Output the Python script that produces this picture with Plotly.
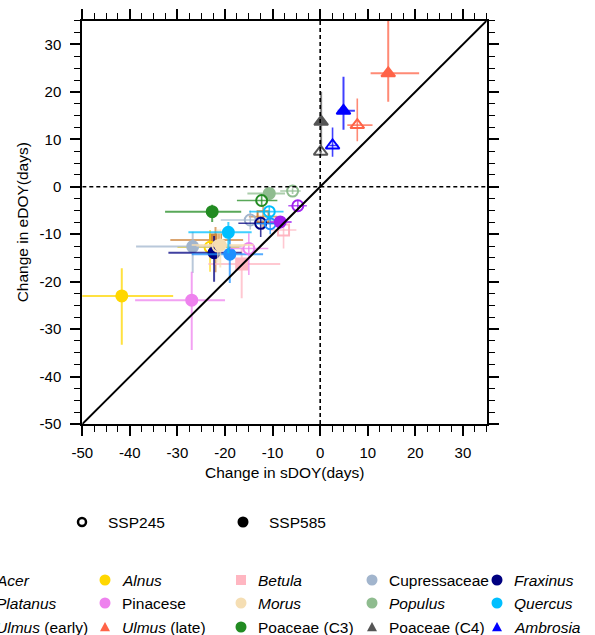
import plotly.graph_objects as go

# ---------------- data ----------------
species = ["Acer", "Alnus", "Betula", "Cupressaceae", "Fraxinus",
           "Platanus", "Pinacese", "Morus", "Populus", "Quercus",
           "Ulmus (early)", "Ulmus (late)", "Poaceae (C3)", "Poaceae (C4)", "Ambrosia"]

# SSP585 (filled)
x585 = [-22.0, -41.7, -16.5, -26.8, -22.3, -19.0, -27.0, -21.0, -10.7, -19.3, -8.4, 14.3, -22.7, 0.2, 4.9]
y585 = [-11.2, -23.0, -16.3, -12.6, -13.9, -14.2, -23.9, -12.3, -1.4, -9.6, -7.4, 23.9, -5.25, 13.7, 16.0]
x585_lo = [-31.5, -52.0, -23.5, -38.7, -31.9, -27.0, -38.9, -27.0, -15.3, -27.7, -10.5, 10.6, -32.6, -0.3, 3.7]
x585_hi = [-16.2, -30.9, -8.4, -16.5, -16.5, -12.0, -20.0, -14.0, -7.4, -14.4, -6.0, 20.8, -16.6, 0.7, 7.3]
y585_lo = [-18.0, -33.3, -23.5, -18.2, -20.0, -20.3, -34.4, -17.0, -2.5, -14.0, -8.8, 17.9, -7.4, 8.0, 12.0]
y585_hi = [-8.5, -17.2, -12.9, -9.5, -10.4, -9.5, -17.9, -9.0, -0.5, -7.4, -6.3, 36.0, -3.8, 20.0, 23.2]

# SSP245 (open)
x245 = [-12.0, -23.15, -7.7, -14.7, -12.5, -10.5, -15.0, -21.5, -5.8, -10.7, -4.7, 7.8, -12.3, 0.1, 2.6]
y245 = [-6.3, -12.75, -9.1, -7.0, -7.7, -7.8, -13.0, -12.5, -0.9, -5.25, -4.0, 13.0, -2.9, 7.4, 8.7]
x245_lo = [-15.0, -30.0, -10.5, -20.9, -17.2, -13.5, -19.0, -26.0, -8.4, -14.9, -6.7, 5.7, -17.5, -0.2, 1.9]
x245_hi = [-9.0, -17.0, -5.0, -7.7, -9.1, -8.0, -10.9, -16.0, -4.1, -7.7, -2.8, 11.0, -9.0, 0.4, 3.8]
y245_lo = [-9.0, -17.9, -13.0, -9.0, -10.6, -10.0, -18.6, -16.0, -1.5, -7.0, -5.3, 9.6, -4.0, 6.3, 6.3]
y245_hi = [-4.0, -9.1, -6.5, -5.0, -6.5, -6.0, -9.8, -9.0, -0.3, -4.0, -2.9, 18.6, -1.8, 9.9, 12.5]

x_ticks = [-50, -40, -30, -20, -10, 0, 10, 20, 30]
y_ticks = [-50, -40, -30, -20, -10, 0, 10, 20, 30]

legend_labels = ["<i>Acer</i>", "<i>Alnus</i>", "<i>Betula</i>", "Cupressaceae", "<i>Fraxinus</i>",
                 "<i>Platanus</i>", "Pinacese", "<i>Morus</i>", "<i>Populus</i>", "<i>Quercus</i>",
                 "<i>Ulmus</i> (early)", "<i>Ulmus</i> (late)", "Poaceae (C3)", "Poaceae (C4)", "<i>Ambrosia</i>"]

# ---------------- styles ----------------
colors = ["#CD853F", "#FFD700", "#FFB6C1", "#A2B5CD", "#000080",
          "#1E90FF", "#EE82EE", "#F5DEB3", "#8FBC8F", "#00BFFF",
          "#A020F0", "#FF6347", "#228B22", "#555555", "#0000FF"]
shapes_m = ["square", "circle", "square", "circle", "circle",
            "circle", "circle", "circle", "circle", "circle",
            "circle", "triangle-up", "circle", "triangle-up", "triangle-up"]


def rgba(h, a):
    h = h.lstrip("#")
    return "rgba(%d,%d,%d,%.2f)" % (int(h[0:2], 16), int(h[2:4], 16), int(h[4:6], 16), a)


FONT = "Liberation Sans, Arial, Helvetica, sans-serif"
FS = 15.5
W, H = 595, 635
L, R, T, B = 82.3, 486.7, 20.7, 424.0


def px(xp):
    return xp / W


def py(yp):
    return 1 - yp / H


fig = go.Figure()

# main data traces
for i, sp in enumerate(species):
    c = colors[i]
    for (xs, ys, xl, xh, yl, yh, filled) in [
            (x245, y245, x245_lo, x245_hi, y245_lo, y245_hi, False),
            (x585, y585, x585_lo, x585_hi, y585_lo, y585_hi, True)]:
        sym = shapes_m[i] if filled else shapes_m[i] + "-open"
        fig.add_trace(go.Scatter(
            x=[xs[i]], y=[ys[i]], mode="markers",
            marker=dict(symbol=sym, size=11 if "triangle" not in sym else 12,
                        color=c, line=dict(color=c, width=2)),
            error_x=dict(type="data", symmetric=False,
                         array=[xh[i] - xs[i]], arrayminus=[xs[i] - xl[i]],
                         color=rgba(c, 0.75), thickness=2 if filled else 1.6, width=0),
            error_y=dict(type="data", symmetric=False,
                         array=[yh[i] - ys[i]], arrayminus=[ys[i] - yl[i]],
                         color=rgba(c, 0.75), thickness=2 if filled else 1.6, width=0),
            showlegend=False, hoverinfo="skip", cliponaxis=True))

# reference lines
fig.add_shape(type="line", xref="x", yref="y", x0=-50, y0=-50, x1=35, y1=35,
              line=dict(color="black", width=2))
fig.add_shape(type="line", xref="x", yref="y", x0=0, y0=-50, x1=0, y1=35,
              line=dict(color="black", width=1.6, dash="4px,3px"))
fig.add_shape(type="line", xref="x", yref="y", x0=-50, y0=0, x1=35, y1=0,
              line=dict(color="black", width=1.6, dash="4px,3px"))


def legend_marker(sym, cx, cy, size, color, filled=True, lw=0):
    hs = size / 2.0
    line = dict(color=color, width=lw)
    fill = color if filled else "rgba(0,0,0,0)"
    if sym == "circle":
        fig.add_shape(type="circle", xref="paper", yref="paper",
                      x0=px(cx - hs), x1=px(cx + hs), y0=py(cy + hs), y1=py(cy - hs),
                      fillcolor=fill, line=line)
    elif sym == "square":
        fig.add_shape(type="rect", xref="paper", yref="paper",
                      x0=px(cx - hs), x1=px(cx + hs), y0=py(cy + hs), y1=py(cy - hs),
                      fillcolor=fill, line=line)
    else:
        path = "M %f,%f L %f,%f L %f,%f Z" % (px(cx - hs), py(cy + hs * 0.85),
                                               px(cx + hs), py(cy + hs * 0.85),
                                               px(cx), py(cy - hs))
        fig.add_shape(type="path", xref="paper", yref="paper", path=path,
                      fillcolor=fill, line=line)


# ---------------- custom legend ----------------
col_marker_x = [-21, 105, 241, 372, 497]
row_y = [580, 603, 627]
for i, sp in enumerate(species):
    r, cidx = divmod(i, 5)
    mx = col_marker_x[cidx]
    my = row_y[r]
    sym = shapes_m[i]
    legend_marker(sym, mx, my, 11 if sym == "circle" else 10, colors[i])
    fig.add_annotation(x=px(mx + 15), y=py(my), xref="paper", yref="paper",
                       text=legend_labels[i],
                       showarrow=False, xanchor="left", yanchor="middle",
                       font=dict(family=FONT, size=FS, color="black"))

scen_labels = ["SSP245", "SSP585"]
scen_x = [82, 243]
for k, lab in enumerate(scen_labels):
    if k == 0:
        legend_marker("circle", scen_x[k], 522, 8, "black", filled=False, lw=2.5)
    else:
        legend_marker("circle", scen_x[k], 522, 11, "black")
    fig.add_annotation(x=px(scen_x[k] + 24), y=py(522), xref="paper", yref="paper", text=lab,
                       showarrow=False, xanchor="left", yanchor="middle",
                       font=dict(family=FONT, size=FS, color="black"))

# axis titles
fig.add_annotation(x=px((L + R) / 2), y=py(472), xref="paper", yref="paper",
                   text="Change in sDOY(days)",
                   showarrow=False, xanchor="center", yanchor="middle",
                   font=dict(family=FONT, size=FS, color="black"))
fig.add_annotation(x=px(22), y=py((T + B) / 2), xref="paper", yref="paper",
                   text="Change in eDOY(days)",
                   showarrow=False, xanchor="center", yanchor="middle", textangle=-90,
                   font=dict(family=FONT, size=FS, color="black"))

axis_common = dict(
    showgrid=False, zeroline=False, showline=True, linecolor="black", linewidth=2,
    mirror="allticks", ticks="outside", ticklen=10, tickwidth=1.6, tickcolor="black",
    tickfont=dict(family=FONT, size=15, color="black"), automargin=False,
    minor=dict(dtick=2.5, tick0=0, ticks="outside", ticklen=6, tickwidth=1.3, tickcolor="black"),
)

fig.update_layout(
    width=W, height=H,
    margin=dict(l=0, r=0, t=0, b=0, autoexpand=False),
    paper_bgcolor="white", plot_bgcolor="rgba(0,0,0,0)",
    xaxis=dict(domain=[L / W, R / W], range=[-50, 35], tickmode="array", tickvals=x_ticks,
               ticktext=[str(v) for v in x_ticks], ticklabelstandoff=4, **axis_common),
    yaxis=dict(domain=[1 - B / H, 1 - T / H], range=[-50, 35], tickmode="array", tickvals=y_ticks,
               ticktext=[str(v) for v in y_ticks], ticklabelstandoff=6, **axis_common),
    showlegend=False,
)

fig.write_html("out.html", post_script="document.body.style.margin='0';",
               config={"displayModeBar": False})
